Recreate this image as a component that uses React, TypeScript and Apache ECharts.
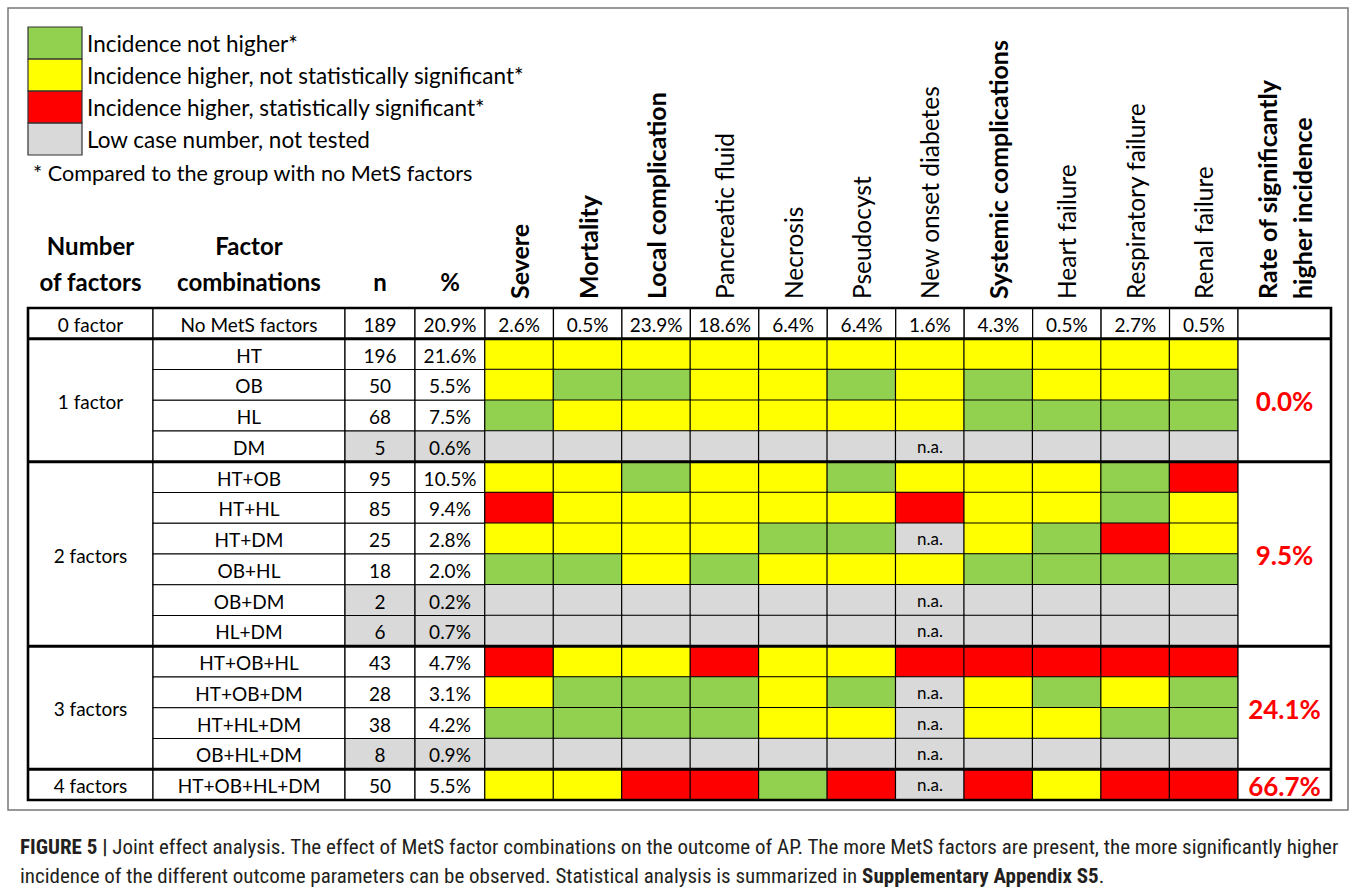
import React, { useEffect, useRef } from 'react';
import * as echarts from 'echarts';

// ---------- data ----------
const groupLabels = ['0 factor', '1 factor', '2 factors', '3 factors', '4 factors'];
const groupSizes = [1, 4, 6, 4, 1];
const rateLabels = ['', '0.0%', '9.5%', '24.1%', '66.7%'];
const combos = ['No MetS factors', 'HT', 'OB', 'HL', 'DM', 'HT+OB', 'HT+HL', 'HT+DM', 'OB+HL', 'OB+DM', 'HL+DM', 'HT+OB+HL', 'HT+OB+DM', 'HT+HL+DM', 'OB+HL+DM', 'HT+OB+HL+DM'];
const nValues = [189, 196, 50, 68, 5, 95, 85, 25, 18, 2, 6, 43, 28, 38, 8, 50];
const pctValues = ['20.9%', '21.6%', '5.5%', '7.5%', '0.6%', '10.5%', '9.4%', '2.8%', '2.0%', '0.2%', '0.7%', '4.7%', '3.1%', '4.2%', '0.9%', '5.5%'];
const outcomes = ['Severe', 'Mortality', 'Local complication', 'Pancreatic fluid', 'Necrosis', 'Pseudocyst', 'New onset diabetes', 'Systemic complications', 'Heart failure', 'Respiratory failure', 'Renal failure'];
const boldOutcomes = [true, true, true, false, false, false, false, true, false, false, false];
const baseline = ['2.6%', '0.5%', '23.9%', '18.6%', '6.4%', '6.4%', '1.6%', '4.3%', '0.5%', '2.7%', '0.5%'];
// G = not higher, Y = higher n.s., R = higher significant, N = not tested, A = not tested (n.a.)
const results = [
  'YYYYYYYYYYY', // HT
  'YGGYYGYGYYG', // OB
  'GYYYYYYGGGG', // HL
  'NNNNNNANNNN', // DM
  'YYGYYGYYYGR', // HT+OB
  'RYYYYYRYYGY', // HT+HL
  'YYYYGGAYGRY', // HT+DM
  'GGYGYYYGGGG', // OB+HL
  'NNNNNNANNNN', // OB+DM
  'NNNNNNANNNN', // HL+DM
  'RYYRYYRRRRR', // HT+OB+HL
  'YGGGYGAYGYG', // HT+OB+DM
  'GGGGYYAYYGG', // HT+HL+DM
  'NNNNNNANNNN', // OB+HL+DM
  'YYRRGRARYRR', // HT+OB+HL+DM
];
const legendLabels = ['Incidence not higher*', 'Incidence higher, not statistically significant*', 'Incidence higher, statistically significant*', 'Low case number, not tested'];
const footnote = '* Compared to the group with no MetS factors';
const headFactor = 'Number\nof factors';
const headCombo = 'Factor\ncombinations';
const headN = 'n';
const headPct = '%';
const headRate = 'Rate of significantly\nhigher incidence';

// ---------- styles / layout ----------
const FONT = 'Lato, "Open Sans", sans-serif';
const CAP_FONT = '"Liberation Sans Narrow", "Roboto Condensed", Roboto, "Liberation Sans", sans-serif';
const COLORS = ['#92D050', '#FFFF00', '#FF0000', '#D9D9D9'];
const CODE: Record<string, number> = { G: 0, Y: 1, R: 2, N: 3, A: 3 };
const TOP = 308;
const ROW_H = 30.75;
const TABLE_LEFT = 28;
const COL_W = [125, 192, 70, 70, 753, 93];
const BODY_SIZE = 19;
const ROT = -90;

const rowIdx = combos.map((_, i) => String(i));
const colLeft: number[] = [];
COL_W.reduce((acc, w) => { colLeft.push(acc); return acc + w; }, TABLE_LEFT);
const TABLE_W = COL_W.reduce((a, b) => a + b, 0);
const TABLE_H = ROW_H * combos.length;

const groupStarts: number[] = [];
groupSizes.reduce((acc, s) => { groupStarts.push(acc); return acc + s; }, 0);

const lowCase = combos.map((_, i) => (i === 0 ? false : !/[GYR]/.test(results[i - 1])));

function cellRender(getText: (i: number) => string, getFill: (i: number) => string, extra: any = {}) {
  return (params: any, api: any) => {
    const row = api.value(1);
    const p = api.coord([0, row]);
    const s = api.size([1, 1]);
    return {
      type: 'group',
      children: [
        { type: 'rect', shape: { x: p[0] - s[0] / 2, y: p[1] - s[1] / 2, width: s[0], height: s[1] }, style: { fill: getFill(row), stroke: '#000', lineWidth: 1.2 } },
        { type: 'text', style: { text: getText(row), x: p[0], y: p[1] + 1, align: 'center', verticalAlign: 'middle', fontSize: BODY_SIZE, fontFamily: FONT, fill: '#000', ...extra } },
      ],
    };
  };
}

function mergedRender(labels: string[], extra: any) {
  return (params: any, api: any) => {
    const gi = api.value(3);
    const a = api.coord([0, api.value(1)]);
    const b = api.coord([0, api.value(2)]);
    const s = api.size([1, 1]);
    const x = a[0] - s[0] / 2;
    const y = a[1] - s[1] / 2;
    const h = b[1] - a[1] + s[1];
    return {
      type: 'group',
      children: [
        { type: 'rect', shape: { x, y, width: s[0], height: h }, style: { fill: '#fff', stroke: '#000', lineWidth: 1.2 } },
        { type: 'text', style: { text: labels[gi], x: a[0], y: y + h / 2 + 1, align: 'center', verticalAlign: 'middle', fontFamily: FONT, ...extra } },
      ],
    };
  };
}

function buildOption() {
  const grids = COL_W.map((w, i) => ({ left: colLeft[i], top: TOP, width: w, height: TABLE_H }));
  const headerLabel = { show: true, interval: 0, margin: 9, fontFamily: FONT, fontSize: 24, fontWeight: 'bold', color: '#000', lineHeight: 36 };
  const xHeads = [[headFactor], [headCombo], [headN], [headPct], outcomes, [headRate]];
  const xAxis = xHeads.map((d, i) => {
    const base: any = {
      gridIndex: i, type: 'category', data: d, position: 'top',
      axisLine: { show: false }, axisTick: { show: false }, splitLine: { show: false },
      axisLabel: { ...headerLabel },
    };
    if (i === 4) {
      base.axisLabel = {
        show: true, interval: 0, rotate: ROT, margin: 9, hideOverlap: false,
        formatter: (v: string, idx: number) => (boldOutcomes[idx] ? `{b|${v}}` : `{n|${v}}`),
        rich: {
          b: { fontFamily: FONT, fontSize: 25, fontWeight: 'bold', color: '#000' },
          n: { fontFamily: FONT, fontSize: 24.5, color: '#000' },
        },
      };
    }
    if (i === 5) {
      base.axisLabel = { show: true, interval: 0, rotate: ROT, margin: 9, fontFamily: FONT, fontSize: 25, fontWeight: 'bold', color: '#000', lineHeight: 35 };
    }
    return base;
  });
  const yAxis = COL_W.map((_, i) => ({ gridIndex: i, type: 'category', data: rowIdx, inverse: true, show: false }));

  const heatData: any[] = [];
  results.forEach((r, ri) => {
    r.split('').forEach((c, ci) => {
      heatData.push([ci, ri + 1, CODE[c], c === 'A' ? 1 : 0]);
    });
  });

  const series: any[] = [
    {
      type: 'custom', xAxisIndex: 0, yAxisIndex: 0,
      data: groupLabels.map((_, i) => [0, groupStarts[i], groupStarts[i] + groupSizes[i] - 1, i]),
      encode: { x: 0, y: 1 },
      renderItem: mergedRender(groupLabels, { fontSize: BODY_SIZE, fill: '#000' }),
    },
    {
      type: 'custom', xAxisIndex: 1, yAxisIndex: 1,
      data: combos.map((_, i) => [0, i]), encode: { x: 0, y: 1 },
      renderItem: cellRender((i) => combos[i], () => '#fff'),
    },
    {
      type: 'custom', xAxisIndex: 2, yAxisIndex: 2,
      data: nValues.map((_, i) => [0, i]), encode: { x: 0, y: 1 },
      renderItem: cellRender((i) => String(nValues[i]), (i) => (lowCase[i] ? COLORS[3] : '#fff')),
    },
    {
      type: 'custom', xAxisIndex: 3, yAxisIndex: 3,
      data: pctValues.map((_, i) => [0, i]), encode: { x: 0, y: 1 },
      renderItem: cellRender((i) => pctValues[i], (i) => (lowCase[i] ? COLORS[3] : '#fff')),
    },
    {
      type: 'heatmap', xAxisIndex: 4, yAxisIndex: 4,
      data: heatData,
      itemStyle: { borderColor: '#000', borderWidth: 1.2 },
      label: { show: true, formatter: (p: any) => (p.data[3] ? 'n.a.' : ''), fontFamily: FONT, fontSize: 17, color: '#000' },
      emphasis: { disabled: true },
    },
    {
      type: 'custom', xAxisIndex: 4, yAxisIndex: 4,
      data: baseline.map((_, i) => [i, 0]), encode: { x: 0, y: 1 },
      renderItem: (params: any, api: any) => {
        const ci = api.value(0);
        const p = api.coord([ci, 0]);
        const s = api.size([1, 1]);
        return {
          type: 'group',
          children: [
            { type: 'rect', shape: { x: p[0] - s[0] / 2, y: p[1] - s[1] / 2, width: s[0], height: s[1] }, style: { fill: '#fff', stroke: '#000', lineWidth: 1.2 } },
            { type: 'text', style: { text: baseline[ci], x: p[0], y: p[1] + 1, align: 'center', verticalAlign: 'middle', fontSize: BODY_SIZE, fontFamily: FONT, fill: '#000' } },
          ],
        };
      },
    },
    {
      type: 'custom', xAxisIndex: 5, yAxisIndex: 5,
      data: rateLabels.map((_, i) => [0, groupStarts[i], groupStarts[i] + groupSizes[i] - 1, i]),
      encode: { x: 0, y: 1 },
      renderItem: mergedRender(rateLabels, { fontSize: 26, fontWeight: 'bold', fill: '#FF0000' }),
    },
  ];

  const LEG_L = 28, LEG_T = 27, LEG_W = 54, LEG_H = 32;
  const graphic: any[] = [
    { type: 'rect', z: 100, shape: { x: 8, y: 8, width: 1340, height: 802 }, style: { fill: 'none', stroke: '#777', lineWidth: 1.5 } },
    { type: 'rect', z: 100, shape: { x: TABLE_LEFT, y: TOP, width: TABLE_W, height: TABLE_H }, style: { fill: 'none', stroke: '#000', lineWidth: 2.6 } },
    ...groupStarts.slice(1).map((g) => ({
      type: 'line', z: 100,
      shape: { x1: TABLE_LEFT, y1: TOP + g * ROW_H, x2: TABLE_LEFT + TABLE_W, y2: TOP + g * ROW_H },
      style: { stroke: '#000', lineWidth: 3 },
    })),
    ...legendLabels.map((_, i) => ({
      type: 'rect', z: 100, shape: { x: LEG_L, y: LEG_T + i * LEG_H, width: LEG_W, height: LEG_H },
      style: { fill: 'none', stroke: '#333', lineWidth: 1.2 },
    })),
    { type: 'text', z: 100, style: { text: footnote, x: 33, y: 173, verticalAlign: 'middle', fontFamily: FONT, fontSize: 21.6, fill: '#000' } },
    {
      type: 'text', z: 100,
      style: {
        x: 20, y: 832,
        text: '{b|FIGURE 5 |} Joint effect analysis. The effect of MetS factor combinations on the outcome of AP. The more MetS factors are present, the more significantly higher\nincidence of the different outcome parameters can be observed. Statistical analysis is summarized in {b|Supplementary Appendix S5}.',
        fontFamily: CAP_FONT, fontSize: 21, fill: '#231f20', lineHeight: 29,
        rich: { b: { fontFamily: CAP_FONT, fontSize: 21, fontWeight: 'bold', fill: '#231f20', lineHeight: 29 } },
      },
    },
  ];

  return {
    animation: false,
    backgroundColor: '#fff',
    grid: grids,
    xAxis,
    yAxis,
    visualMap: {
      type: 'piecewise', seriesIndex: 4, dimension: 2, orient: 'vertical', inverse: true,
      left: LEG_L, top: LEG_T, itemWidth: LEG_W, itemHeight: LEG_H, itemGap: 0, textGap: 5,
      itemSymbol: 'rect', selectedMode: false, padding: 0, showLabel: true,
      pieces: legendLabels.map((l, i) => ({ value: i, label: l, color: COLORS[i] })),
      textStyle: { fontFamily: FONT, fontSize: 22.5, color: '#000' },
    },
    series,
    graphic,
  };
}

export default function App() {
  const ref = useRef<HTMLDivElement>(null);
  useEffect(() => {
    if (!ref.current) return;
    const chart = echarts.init(ref.current, null, { renderer: 'svg' });
    chart.setOption(buildOption() as any);
    return () => chart.dispose();
  }, []);
  return <div ref={ref} style={{ position: 'absolute', left: 0, top: 0, width: 1357, height: 891, background: '#fff' }} />;
}
